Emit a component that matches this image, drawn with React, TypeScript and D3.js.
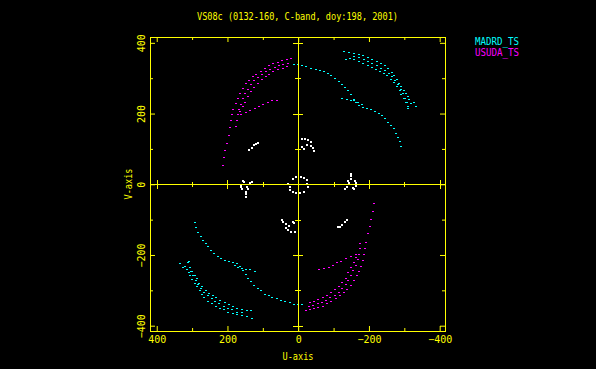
import React, { useEffect, useRef } from 'react'
import * as d3 from 'd3'

const title = 'VS08c (0132-160, C-band, doy:198, 2001)'
const stations = ['MADRD_TS', 'USUDA_TS']
const stationColors = ['#00ffff', '#ff00ff']

const uTicks = [400, 300, 200, 100, 0, -100, -200, -300, -400]
const vTicks = [400, 300, 200, 100, 0, -100, -200, -300, -400]
const labelTicks = [400, 200, 0, -200, -400]

// (u, v) samples; every sample is drawn with its conjugate (-u, -v)
const madrdLong = [
  [11, 340], [0, 339], [-11, 338], [-23, 334], [-36, 330], [-49, 327], [-61, 323], [-73, 319],
  [-83, 314], [-93, 309], [-105, 300], [-114, 293], [-124, 284], [-133, 275], [-141, 266],
  [-149, 254], [-157, 242], [-164, 232], [-172, 224], [-184, 219], [-195, 216], [-206, 213],
  [-217, 208], [-227, 202], [-237, 195], [-246, 186], [-254, 176], [-262, 167], [-270, 158],
  [-276, 145], [-283, 134], [-288, 122], [-292, 107],
]
const madrdInner = [[-123, 244], [-137, 240], [-148, 239], [-158, 238], [-170, 233], [-180, 228]]
const madrdOuter1 = [
  [-130, 377], [-144, 373], [-158, 370], [-172, 368], [-184, 365], [-198, 360], [-210, 354],
  [-222, 349], [-233, 343], [-244, 336], [-255, 330], [-265, 318], [-271, 310], [-278, 299],
  [-286, 287], [-292, 278], [-299, 268], [-305, 258], [-309, 249], [-314, 240], [-320, 231],
  [-326, 233], [-333, 222],
]
const madrdOuter2 = [
  [-134, 355], [-146, 357], [-158, 353], [-173, 350], [-184, 343], [-196, 338], [-208, 333],
  [-220, 326], [-231, 320], [-242, 314], [-252, 308], [-261, 299], [-271, 289], [-280, 279],
  [-287, 266], [-292, 256], [-299, 245], [-305, 233], [-309, 217],
]
const madrdOuter3 = [
  [-158, 362], [-173, 360], [-186, 354], [-198, 349], [-210, 343], [-223, 337], [-234, 330],
  [-245, 322], [-256, 314], [-265, 305], [-274, 294], [-283, 283], [-290, 270], [-297, 258],
  [-303, 245], [-307, 233], [-311, 220],
]
const usudaA = [
  [21, 357], [33, 354], [45, 351], [57, 347], [70, 343], [82, 336], [94, 329], [106, 321],
  [118, 313], [129, 305], [139, 296], [149, 285], [157, 272], [165, 258], [171, 245], [177, 230],
  [183, 214], [187, 198], [190, 181], [193, 162], [197, 139], [202, 117], [207, 98], [211, 77],
  [213, 54],
]
const usudaB = [
  [30, 344], [42, 341], [55, 337], [67, 333], [79, 327], [91, 320], [103, 313], [114, 304],
  [124, 294], [134, 283], [142, 270], [150, 257], [156, 243], [162, 228], [168, 212], [171, 198],
  [174, 181], [176, 165],
]
const usudaC = [
  [33, 334], [44, 330], [57, 325], [70, 320], [82, 313], [92, 305], [103, 297], [114, 287],
  [124, 276], [134, 264], [142, 249], [150, 234], [157, 220], [164, 207],
]
const usudaInner = [[162, 198], [149, 204], [135, 209], [122, 216], [110, 221], [99, 228], [86, 233], [74, 237], [60, 239]]
const ground = [
  [139, 99], [132, 105], [125, 113], [118, 117], [113, 119],
  [-10, 132], [-19, 131], [-28, 127], [-35, 122], [-25, 115], [-35, 110], [-42, 105], [-46, 98], [-12, 107], [-16, 103],
  [16, 19], [5, 23], [-7, 23], [-16, 20], [-24, 14], [28, 4], [24, -4],
  [-148, 33], [-149, 25], [-149, 19], [-141, 11], [-144, 6], [-160, 11], [-162, 5], [-162, -2],
  [-132, -10], [-137, -6], [-154, -8], [-157, -11],
]

const W = 596
const H = 369

const App = () => {
  const ref = useRef<SVGSVGElement>(null)

  useEffect(() => {
    const svg = d3.select(ref.current)
    svg.selectAll('*').remove()

    const x = d3.scaleLinear().domain([419, -415]).range([150, 445])
    const y = d3.scaleLinear().domain([-415, 416.5]).range([331, 37])
    const yellow = '#ffff00'
    const font = '"DejaVu Sans Mono", monospace'

    svg.append('rect').attr('width', W).attr('height', H).attr('fill', '#000')

    const dots = (pts: number[][], color: string, h: number) => {
      const all = pts.concat(pts.map(([u, v]) => [-u, -v]))
      svg.append('g')
        .selectAll('rect')
        .data(all)
        .join('rect')
        .attr('x', (d) => Math.round(x(d[0])) - 1)
        .attr('y', (d) => Math.round(y(d[1])))
        .attr('width', 2)
        .attr('height', h)
        .attr('fill', color)
        .attr('shape-rendering', 'crispEdges')
    }
    dots(ground, '#ffffff', 2)
    dots(madrdLong.concat(madrdInner, madrdOuter1, madrdOuter2, madrdOuter3), stationColors[0], 1)
    dots(usudaA.concat(usudaB, usudaC, usudaInner), stationColors[1], 1)

    // frame
    svg.append('rect')
      .attr('x', 150.5).attr('y', 37.5).attr('width', 295).attr('height', 294)
      .attr('fill', 'none').attr('stroke', yellow)

    const isMajor = (t: number) => t % 200 === 0
    const styleAxis = (g: any) => {
      g.attr('color', yellow).attr('font-family', font).attr('font-size', 10)
      g.select('.domain').remove()
    }
    const noLabel = () => ''

    // frame ticks, minor and major, pointing inward
    const minorU = uTicks.filter((t) => !isMajor(t))
    const minorV = vTicks.filter((t) => !isMajor(t))
    svg.append('g').attr('transform', 'translate(0,331)')
      .call(d3.axisBottom(x).tickValues(minorU).tickSize(-3).tickFormat(noLabel)).call(styleAxis)
    svg.append('g').attr('transform', 'translate(0,331)')
      .call(d3.axisBottom(x).tickValues(labelTicks).tickSize(-5).tickPadding(5).tickFormat(d3.format('d')))
      .call(styleAxis)
    svg.append('g').attr('transform', 'translate(0,37)')
      .call(d3.axisTop(x).tickValues(minorU).tickSize(-3).tickFormat(noLabel)).call(styleAxis)
    svg.append('g').attr('transform', 'translate(0,37)')
      .call(d3.axisTop(x).tickValues(labelTicks).tickSize(-5).tickFormat(noLabel)).call(styleAxis)
    svg.append('g').attr('transform', 'translate(445,0)')
      .call(d3.axisRight(y).tickValues(minorV).tickSize(-3).tickFormat(noLabel)).call(styleAxis)
    svg.append('g').attr('transform', 'translate(445,0)')
      .call(d3.axisRight(y).tickValues(labelTicks).tickSize(-5).tickFormat(noLabel)).call(styleAxis)
    svg.append('g').attr('transform', 'translate(150,0)')
      .call(d3.axisLeft(y).tickValues(minorV).tickSize(-3).tickFormat(noLabel)).call(styleAxis)
    const left = svg.append('g').attr('transform', 'translate(150,0)')
      .call(d3.axisLeft(y).tickValues(labelTicks).tickSize(-5).tickFormat(d3.format('d')))
      .call(styleAxis)
    left.selectAll('text')
      .attr('x', null).attr('dy', null)
      .attr('text-anchor', 'middle')
      .attr('transform', 'translate(-5,0) rotate(-90)')

    // axes through the origin
    const cross = svg.append('g').attr('stroke', yellow).attr('shape-rendering', 'crispEdges')
    cross.append('line')
      .attr('x1', Math.round(x(0)) + 0.5).attr('x2', Math.round(x(0)) + 0.5)
      .attr('y1', 37).attr('y2', 331)
    cross.append('line')
      .attr('x1', 150).attr('x2', 445)
      .attr('y1', Math.round(y(0)) + 0.5).attr('y2', Math.round(y(0)) + 0.5)
    cross.selectAll('.tu')
      .data(uTicks.filter((t) => t !== 0))
      .join('line')
      .attr('x1', (t) => Math.round(x(t)) + 0.5).attr('x2', (t) => Math.round(x(t)) + 0.5)
      .attr('y1', (t) => y(0) - (isMajor(t) ? 4.5 : 2.5))
      .attr('y2', (t) => y(0) + (isMajor(t) ? 4.5 : 2.5))
    cross.selectAll('.tv')
      .data(vTicks.filter((t) => t !== 0))
      .join('line')
      .attr('y1', (t) => Math.round(y(t)) + 0.5).attr('y2', (t) => Math.round(y(t)) + 0.5)
      .attr('x1', (t) => x(0) - (isMajor(t) ? 5 : 3))
      .attr('x2', (t) => x(0) + (isMajor(t) ? 5 : 3))

    const txt = svg.append('g').attr('font-family', font).attr('font-size', 10)
    txt.append('text')
      .attr('x', 297.5).attr('y', 20).attr('text-anchor', 'middle')
      .attr('fill', yellow).attr('textLength', 201).attr('lengthAdjust', 'spacingAndGlyphs')
      .text(title)
    txt.append('text')
      .attr('x', 298).attr('y', 360).attr('text-anchor', 'middle')
      .attr('fill', yellow).attr('textLength', 31).attr('lengthAdjust', 'spacingAndGlyphs')
      .text('U-axis')
    txt.append('text')
      .attr('transform', 'translate(132,184) rotate(-90)').attr('text-anchor', 'middle')
      .attr('fill', yellow).attr('textLength', 31).attr('lengthAdjust', 'spacingAndGlyphs')
      .text('V-axis')
    txt.selectAll('.legend')
      .data(stations)
      .join('text')
      .attr('x', 475)
      .attr('y', (d, i) => 45 + i * 11)
      .attr('fill', (d, i) => stationColors[i])
      .attr('textLength', 44).attr('lengthAdjust', 'spacingAndGlyphs')
      .text((d) => d)
  }, [])

  return (
    <svg
      ref={ref}
      width={W}
      height={H}
      style={{ position: 'absolute', left: 0, top: 0, display: 'block' }}
    />
  )
}

export default App
